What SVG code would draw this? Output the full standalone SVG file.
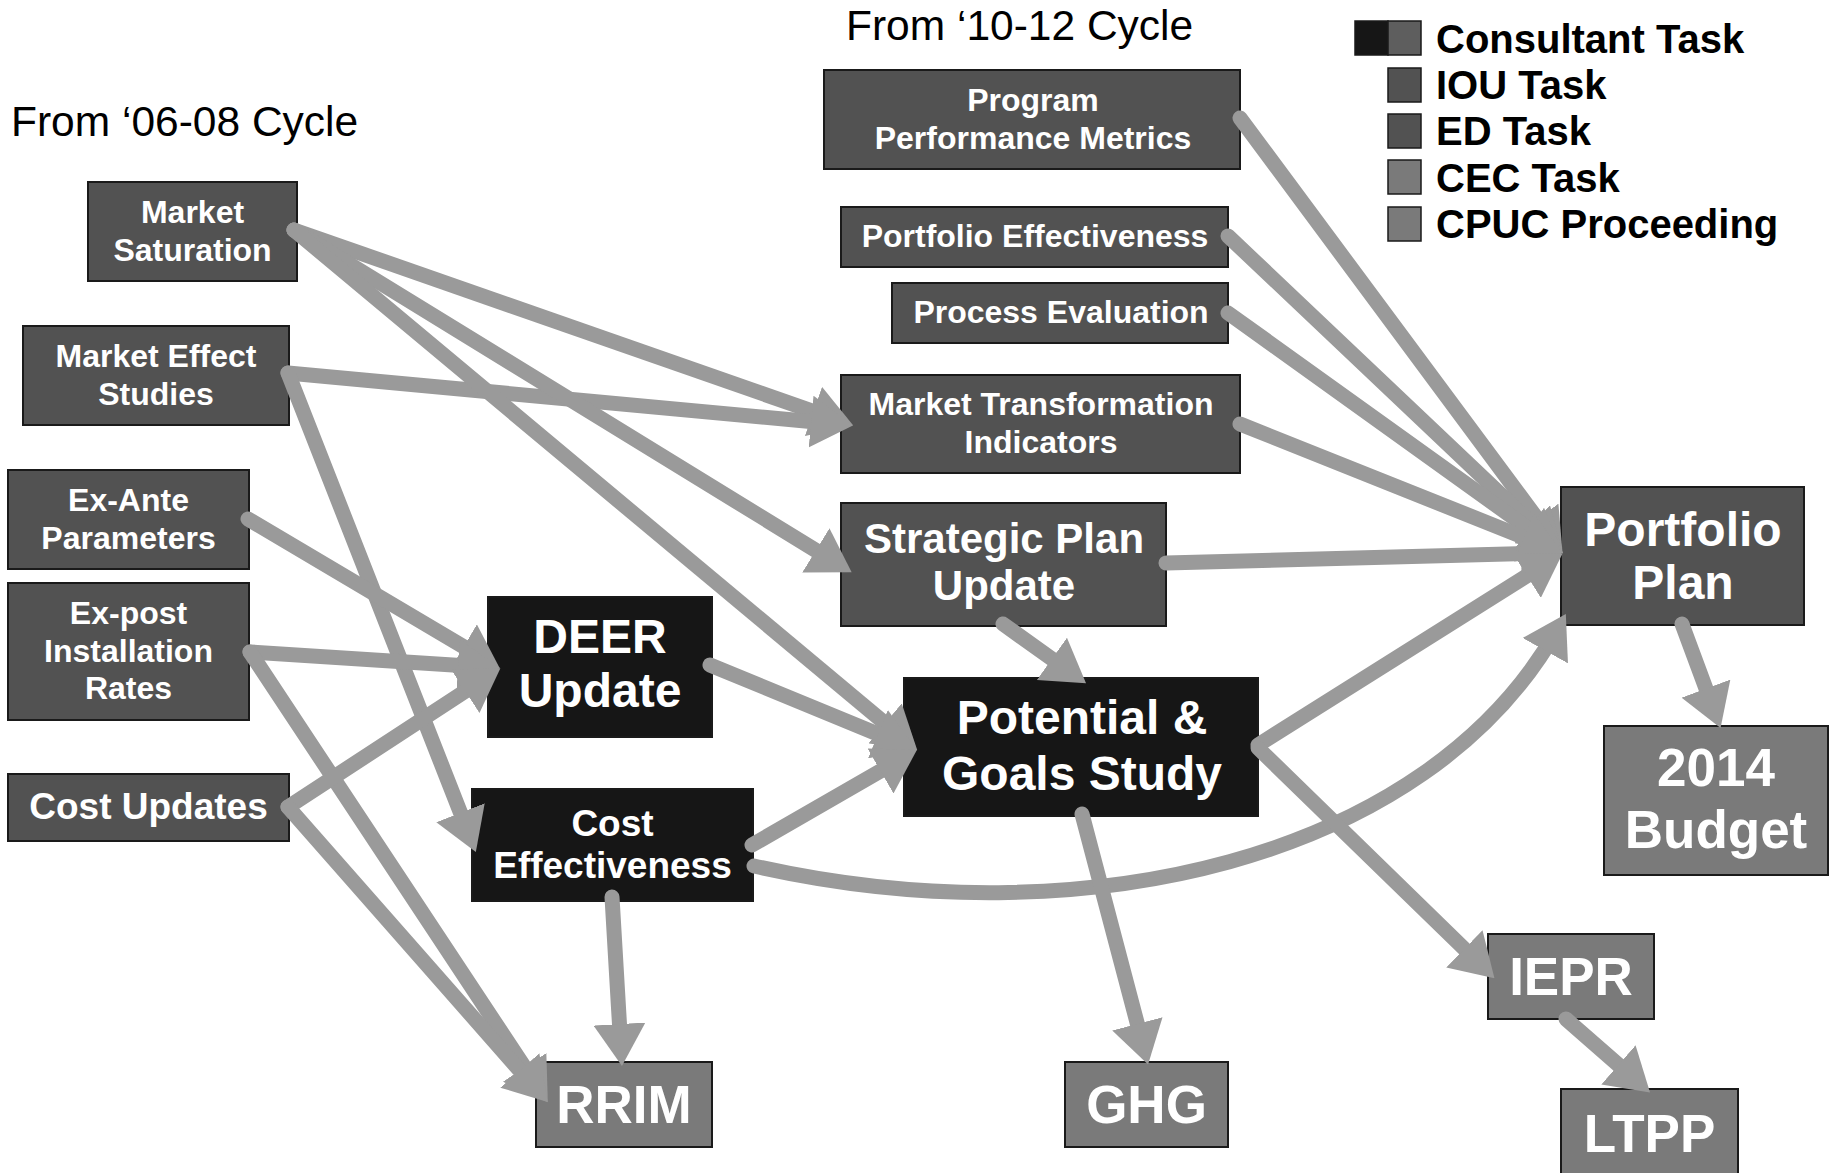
<svg xmlns="http://www.w3.org/2000/svg" width="1834" height="1173" viewBox="0 0 1834 1173">
<style>
.bx{stroke:#1a1a1a;stroke-width:2}
.dk{fill:#525252}
.bk{fill:#161616}
.md{fill:#7a7a7a}
.t{font-family:"Liberation Sans",Arial,sans-serif;font-weight:bold;fill:#fff;text-anchor:middle}
.f32{font-size:32px}.f37{font-size:37px}.f42{font-size:42px}.f48{font-size:48px}.f53{font-size:53px}
.hd{font-family:"Liberation Sans",Arial,sans-serif;font-size:42.5px;fill:#000}
.lg{font-family:"Liberation Sans",Arial,sans-serif;font-weight:bold;font-size:40px;fill:#000}
.c{fill:none;stroke:#9a9a9a;stroke-width:15;stroke-linecap:round;marker-end:url(#ah)}
</style>
<defs>
<marker id="ah" viewBox="0 0 42 52" refX="26" refY="26" markerWidth="42" markerHeight="52" markerUnits="userSpaceOnUse" orient="auto">
<path d="M0,0 L42,26 L0,52 Z" fill="#9a9a9a"/>
</marker>
</defs>
<rect width="1834" height="1173" fill="#fff"/>
<text class="hd" x="11" y="136">From ‘06-08 Cycle</text>
<text class="hd" x="846" y="40">From ‘10-12 Cycle</text>
<g id="legend">
<rect x="1355" y="21" width="33" height="34" fill="#161616" stroke="#1a1a1a" stroke-width="1.5"/>
<rect x="1388" y="21" width="33" height="34" fill="#5e5e5e" stroke="#1a1a1a" stroke-width="1.5"/>
<text class="lg" x="1436" y="53">Consultant Task</text>
<rect class="dk" x="1388" y="68" width="33" height="34" stroke="#1a1a1a" stroke-width="1.5"/>
<text class="lg" x="1436" y="99">IOU Task</text>
<rect class="dk" x="1388" y="114" width="33" height="34" stroke="#1a1a1a" stroke-width="1.5"/>
<text class="lg" x="1436" y="145">ED Task</text>
<rect class="md" x="1388" y="160" width="33" height="34" stroke="#1a1a1a" stroke-width="1.5"/>
<text class="lg" x="1436" y="192">CEC Task</text>
<rect class="md" x="1388" y="207" width="33" height="34" stroke="#1a1a1a" stroke-width="1.5"/>
<text class="lg" x="1436" y="238">CPUC Proceeding</text>
</g>
<g id="n-market-saturation"><rect class="bx dk" x="88" y="182" width="209" height="99"/><text class="t f32" x="192.5" y="223">Market</text><text class="t f32" x="192.5" y="261">Saturation</text></g>
<g id="n-market-effect"><rect class="bx dk" x="23" y="326" width="266" height="99"/><text class="t f32" x="156" y="367">Market Effect</text><text class="t f32" x="156" y="405">Studies</text></g>
<g id="n-ex-ante"><rect class="bx dk" x="8" y="470" width="241" height="99"/><text class="t f32" x="128.5" y="511">Ex-Ante</text><text class="t f32" x="128.5" y="549">Parameters</text></g>
<g id="n-ex-post"><rect class="bx dk" x="8" y="583" width="241" height="137"/><text class="t f32" x="128.5" y="624">Ex-post</text><text class="t f32" x="128.5" y="662">Installation</text><text class="t f32" x="128.5" y="699">Rates</text></g>
<g id="n-cost-updates"><rect class="bx dk" x="8" y="774" width="281" height="67"/><text class="t f37" x="148.5" y="819">Cost Updates</text></g>
<g id="n-deer"><rect class="bx bk" x="488" y="597" width="224" height="140"/><text class="t f48" x="600" y="653">DEER</text><text class="t f48" x="600" y="707">Update</text></g>
<g id="n-cost-eff"><rect class="bx bk" x="472" y="789" width="281" height="112"/><text class="t f37" x="612.5" y="836">Cost</text><text class="t f37" x="612.5" y="878">Effectiveness</text></g>
<g id="n-rrim"><rect class="bx md" x="536" y="1062" width="176" height="85"/><text class="t f53" x="624" y="1123">RRIM</text></g>
<g id="n-ppm"><rect class="bx dk" x="824" y="70" width="416" height="99"/><text class="t f32" x="1033" y="111">Program</text><text class="t f32" x="1033" y="149">Performance Metrics</text></g>
<g id="n-portfolio-eff"><rect class="bx dk" x="841" y="207" width="387" height="60"/><text class="t f32" x="1035" y="247">Portfolio Effectiveness</text></g>
<g id="n-process-eval"><rect class="bx dk" x="892" y="283" width="336" height="60"/><text class="t f32" x="1061" y="323">Process Evaluation</text></g>
<g id="n-mti"><rect class="bx dk" x="841" y="375" width="399" height="98"/><text class="t f32" x="1041" y="415">Market Transformation</text><text class="t f32" x="1041" y="453">Indicators</text></g>
<g id="n-strategic"><rect class="bx dk" x="841" y="503" width="325" height="123"/><text class="t f42" x="1004" y="553">Strategic Plan</text><text class="t f42" x="1004" y="600">Update</text></g>
<g id="n-potential"><rect class="bx bk" x="904" y="678" width="354" height="138"/><text class="t f48" x="1082" y="734">Potential &amp;</text><text class="t f48" x="1082" y="790">Goals Study</text></g>
<g id="n-portfolio-plan"><rect class="bx dk" x="1561" y="487" width="243" height="138"/><text class="t f48" x="1683" y="546">Portfolio</text><text class="t f48" x="1683" y="599">Plan</text></g>
<g id="n-budget"><rect class="bx md" x="1604" y="726" width="224" height="149"/><text class="t f53" x="1716" y="786">2014</text><text class="t f53" x="1716" y="848">Budget</text></g>
<g id="n-iepr"><rect class="bx md" x="1488" y="934" width="166" height="85"/><text class="t f53" x="1571" y="995">IEPR</text></g>
<g id="n-ltpp"><rect class="bx md" x="1561" y="1089" width="177" height="95"/><text class="t f53" x="1649.5" y="1152">LTPP</text></g>
<g id="n-ghg"><rect class="bx md" x="1065" y="1062" width="163" height="85"/><text class="t f53" x="1146.5" y="1123">GHG</text></g>
<g id="connectors">
<path class="c" d="M294,230 L838,420"/>
<path class="c" d="M288,373 L837,424"/>
<path class="c" d="M294,230 L838,564"/>
<path class="c" d="M294,230 L905,740"/>
<path class="c" d="M288,373 L470,837"/>
<path class="c" d="M248,519 L486,660"/>
<path class="c" d="M250,652 L484,667"/>
<path class="c" d="M250,652 L539,1089"/>
<path class="c" d="M288,807 L487,677"/>
<path class="c" d="M288,807 L537,1090"/>
<path class="c" d="M710,665 L902,744"/>
<path class="c" d="M752,845 L903,758"/>
<path class="c" d="M612,897 L621,1050"/>
<path class="c" d="M754,866 C1080,940 1428,860 1558,628"/>
<path class="c" d="M1166,563 L1547,553"/>
<path class="c" d="M1240,118 L1553,540"/>
<path class="c" d="M1228,236 L1551,542"/>
<path class="c" d="M1228,313 L1550,544"/>
<path class="c" d="M1240,424 L1548,547"/>
<path class="c" d="M1258,745 L1549,562"/>
<path class="c" d="M1003,624 L1073,674"/>
<path class="c" d="M1082,814 L1144,1049"/>
<path class="c" d="M1258,748 L1483,967"/>
<path class="c" d="M1566,1019 L1638,1082"/>
<path class="c" d="M1682,624 L1715,713"/>
</g>
</svg>
